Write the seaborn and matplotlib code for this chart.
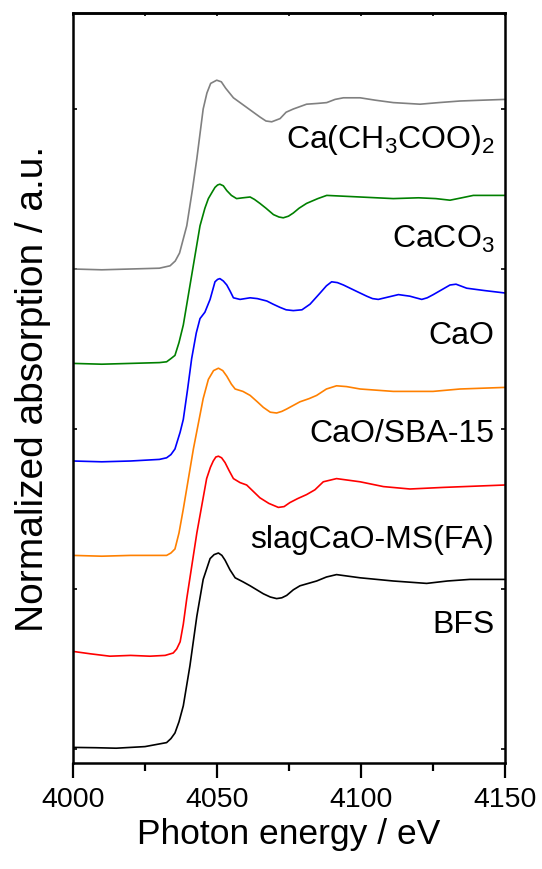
import matplotlib
matplotlib.use("Agg")
import matplotlib.pyplot as plt
import seaborn as sns
import pandas as pd

sns.set_style("ticks")
plt.rcParams['font.family'] = ['Liberation Sans', 'DejaVu Sans']
plt.rcParams['mathtext.fontset'] = 'custom'
plt.rcParams['mathtext.rm'] = 'Liberation Sans'
plt.rcParams['mathtext.it'] = 'Liberation Sans'
for k in ['text.color', 'axes.edgecolor', 'axes.labelcolor', 'xtick.color', 'ytick.color']:
    plt.rcParams[k] = 'black'

# ---- data (y in stacked normalized units) ----
gray_x = [4000, 4010, 4020, 4030, 4033.7, 4035.5, 4037, 4039.5, 4041.5, 4043, 4045.2, 4046.5, 4047.8,
          4049.9, 4051.5, 4053, 4055.7, 4060.3, 4064.9, 4067, 4069, 4071.9, 4074, 4076.5, 4081.1,
          4085, 4088.1, 4091, 4093.9, 4099.7, 4105, 4111.2, 4120.5, 4127, 4134.4, 4142, 4150]
gray_y = [3.0, 2.995, 3.0, 3.005, 3.02, 3.05, 3.1, 3.27, 3.5, 3.69, 4.0, 4.1, 4.16,
          4.18, 4.17, 4.13, 4.07, 4.01, 3.95, 3.925, 3.92, 3.94, 3.98, 4.0, 4.03,
          4.035, 4.04, 4.06, 4.07, 4.07, 4.055, 4.04, 4.03, 4.04, 4.05, 4.055, 4.06]

green_x = [4000, 4010, 4020, 4030, 4032.5, 4034, 4035.4, 4036.8, 4038.3, 4041.2, 4044.1, 4045.8, 4047,
           4048.3, 4049.3, 4050.2, 4051, 4052.2, 4053.4, 4055, 4056.8, 4059, 4061.5, 4063,
           4064.9, 4067, 4069.6, 4071.5, 4073, 4074.8, 4076.5, 4078.5, 4081.1, 4085, 4088.1,
           4099.7, 4111.2, 4120, 4126, 4130.9, 4135, 4139, 4150]
green_y = [2.41, 2.405, 2.41, 2.415, 2.42, 2.44, 2.46, 2.54, 2.65, 2.96, 3.27, 3.38, 3.44,
           3.48, 3.51, 3.525, 3.53, 3.52, 3.49, 3.46, 3.44, 3.445, 3.45, 3.435,
           3.41, 3.38, 3.34, 3.325, 3.32, 3.33, 3.35, 3.38, 3.41, 3.44, 3.46,
           3.45, 3.44, 3.445, 3.44, 3.43, 3.445, 3.46, 3.46]

blue_x = [4000, 4010, 4020, 4030, 4032.5, 4034, 4035.4, 4037.2, 4038.3, 4039.8, 4041.2, 4042.8, 4044.1,
          4045.8, 4047.6, 4049.3, 4050.2, 4051, 4052.2, 4053.4, 4054.6, 4055.7, 4058, 4061.5,
          4064, 4067.3, 4069.5, 4071.9, 4074, 4076.5, 4079.5, 4082.3, 4085.8, 4088, 4089.8, 4091.8,
          4093.9, 4098.5, 4102, 4104, 4106, 4109.5, 4113, 4117, 4119, 4121.1, 4123, 4125.1, 4128,
          4130.9, 4133, 4136.7, 4143, 4150]
blue_y = [1.80, 1.795, 1.80, 1.81, 1.82, 1.84, 1.875, 1.98, 2.06, 2.25, 2.44, 2.60, 2.69,
          2.73, 2.81, 2.92, 2.935, 2.94, 2.925, 2.90, 2.86, 2.82, 2.81, 2.82,
          2.815, 2.80, 2.78, 2.76, 2.745, 2.74, 2.745, 2.78, 2.85, 2.895, 2.92, 2.915,
          2.90, 2.86, 2.83, 2.815, 2.81, 2.825, 2.84, 2.83, 2.82, 2.81, 2.82, 2.84, 2.87,
          2.90, 2.905, 2.88, 2.865, 2.85]

orange_x = [4000, 4010, 4020, 4030, 4032.5, 4034, 4035.4, 4036.8, 4038.3, 4041.8, 4045.2, 4047, 4048.8,
            4050.5, 4052, 4053.4, 4055, 4056.3, 4059, 4061.5, 4064, 4066.1, 4068.5, 4070.7, 4072.5,
            4074.2, 4078.8, 4082, 4084.6, 4088, 4091.5, 4095, 4099.7, 4111.2, 4125, 4134.4, 4150]
orange_y = [1.21, 1.205, 1.21, 1.21, 1.21, 1.225, 1.25, 1.35, 1.50, 1.875, 2.19, 2.31, 2.365,
            2.38, 2.365, 2.33, 2.28, 2.25, 2.235, 2.21, 2.17, 2.135, 2.105, 2.10, 2.11,
            2.125, 2.17, 2.19, 2.21, 2.25, 2.27, 2.265, 2.25, 2.235, 2.235, 2.25, 2.26]

red_x = [4000, 4006, 4012.8, 4020, 4026.7, 4032, 4034.8, 4036, 4037.2, 4038.3, 4039.5, 4043, 4046.4,
         4047.7, 4048.7, 4049.6, 4050.5, 4051.6, 4052.8, 4054.2, 4055.7, 4058, 4060.3, 4062.6,
         4064.9, 4068, 4071.3, 4073.3, 4075.3, 4078, 4081.1, 4084, 4086.9, 4091.5, 4099.7,
         4107.8, 4117, 4128.6, 4150]
red_y = [0.61, 0.595, 0.58, 0.585, 0.58, 0.585, 0.60, 0.625, 0.67, 0.78, 0.94, 1.35, 1.69,
         1.76, 1.80, 1.825, 1.83, 1.82, 1.79, 1.74, 1.69, 1.665, 1.65, 1.61,
         1.57, 1.535, 1.51, 1.515, 1.54, 1.565, 1.59, 1.62, 1.67, 1.69, 1.67,
         1.64, 1.625, 1.635, 1.65]

black_x = [4000, 4008, 4015, 4025, 4032.5, 4034, 4035.4, 4036.8, 4038.3, 4040.6, 4043, 4045.2, 4047.6,
           4049, 4050.5, 4051.7, 4052.8, 4054.5, 4056.3, 4059, 4061.5, 4066.1, 4068.5, 4070.7,
           4072.5, 4074.2, 4076.5, 4078.8, 4084.6, 4088, 4091.5, 4099.7, 4111.2, 4122.8, 4130,
           4137.8, 4150]
black_y = [0.01, 0.008, 0.005, 0.015, 0.04, 0.065, 0.10, 0.17, 0.27, 0.52, 0.83, 1.06, 1.19,
           1.215, 1.225, 1.21, 1.18, 1.12, 1.07, 1.045, 1.02, 0.97, 0.95, 0.94,
           0.945, 0.96, 0.995, 1.02, 1.05, 1.075, 1.09, 1.07, 1.05, 1.035, 1.05,
           1.06, 1.06]

names = ["Ca(CH$_3$COO)$_2$", "CaCO$_3$", "CaO", "CaO/SBA-15", "slagCaO-MS(FA)", "BFS"]
colors = ["#808080", "#008000", "#0000ff", "#ff8000", "#ff0000", "#000000"]
label_y = [3.76, 3.14, 2.54, 1.925, 1.26, 0.73]
xs = [gray_x, green_x, blue_x, orange_x, red_x, black_x]
ys = [gray_y, green_y, blue_y, orange_y, red_y, black_y]

xticks = [4000, 4050, 4100, 4150]

fig = plt.figure(figsize=(5.42, 8.70), dpi=100)
ax = fig.add_axes([73/542, 106/870, 432/542, 750/870])

for name, c, x, y in zip(names, colors, xs, ys):
    df = pd.DataFrame({"E": x, "A": y})
    sns.lineplot(data=df, x="E", y="A", color=c, linewidth=1.2, ax=ax, sort=False)

for name, c, ly in zip(names, colors, label_y):
    ax.text(4146.3, ly, name, ha='right', va='baseline', fontsize=23, color='black')

ax.set_xlim(4000, 4150)
ax.set_ylim(-0.0875, 4.6)
ax.set_xticks(xticks)
ax.set_xticklabels([str(t) for t in xticks], fontsize=20.5)
ax.set_xticks([4025, 4075, 4125], minor=True)
ax.set_yticks([0, 1, 2, 3, 4])
ax.set_yticklabels([])
ax.tick_params(axis='x', which='major', direction='out', length=10.5, width=1.6, pad=6, top=False)
ax.tick_params(axis='x', which='minor', direction='out', length=6, width=1.6, top=False)
ax.tick_params(axis='y', which='major', direction='in', length=3, width=1.2, left=True, right=True)
ax.set_xlabel("Photon energy / eV", fontsize=25.5, labelpad=4)
ax.set_ylabel("Normalized absorption / a.u.", fontsize=28, labelpad=12)
for s in ax.spines.values():
    s.set_linewidth(1.8)
    s.set_color('black')

# small inward ticks on the top spine
ax2 = ax.secondary_xaxis('top')
ax2.set_xticks(xticks)
ax2.set_xticks([4025, 4075, 4125], minor=True)
ax2.set_xticklabels([])
ax2.tick_params(axis='x', which='both', direction='in', length=2.5, width=1.2)
ax2.spines['top'].set_linewidth(1.8)

fig.savefig("out.png", dpi=100)
